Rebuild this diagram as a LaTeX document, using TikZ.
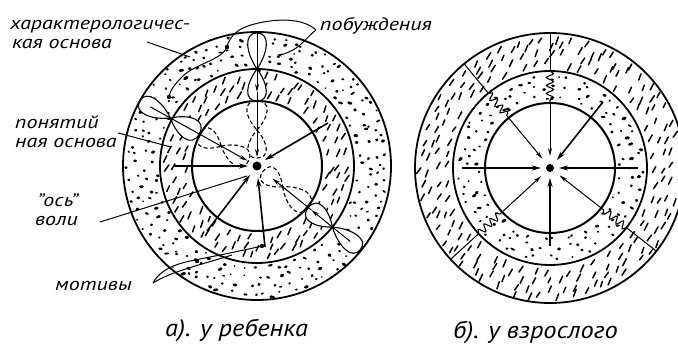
\documentclass[tikz,border=0pt]{standalone}
\usepackage{fontspec}
\setmainfont{PT Sans}
\usetikzlibrary{arrows.meta,decorations.pathmorphing,calc}

\newcommand\dotsrow[4]{%
  \pgfmathtruncatemacro\nn{round(2*pi*#3/#4)}%
  \pgfmathsetmacro\stp{360/\nn}%
  \foreach \k in {1,...,\nn}{%
    \pgfmathsetmacro\ang{(\k+0.45*rand)*\stp}%
    \pgfmathsetmacro\rad{#3+3*rand}%
    \pgfmathsetmacro\len{0.3+3.2*rnd*rnd}%
    \pgfmathsetmacro\dir{40*rand}%
    \pgfmathsetmacro\wid{1.5+1.5*rnd}%
    \draw[line width=\wid pt,line cap=round]
      ({#1+\rad*cos(\ang)},{#2+\rad*sin(\ang)}) -- ++({\dir}:{\len});
  }%
}
\newcommand\dashrow[4]{%
  \pgfmathtruncatemacro\nn{round(2*pi*#3/#4)}%
  \pgfmathsetmacro\stp{360/\nn}%
  \foreach \k in {1,...,\nn}{%
    \pgfmathsetmacro\ang{(\k+0.35*rand)*\stp}%
    \pgfmathsetmacro\rad{#3+2.5*rand}%
    \pgfmathsetmacro\len{5.5+2.5*rnd}%
    \pgfmathsetmacro\dir{-62+10*rand}%
    \draw[line width=1.5pt,line cap=round]
      ({#1+\rad*cos(\ang)},{#2+\rad*sin(\ang)}) ++({\dir}:{-\len/2}) -- ++({\dir}:{\len});
  }%
}
% lobe: pinch at #1, far end at #2, half width #3, extra style #4
\newcommand\lobe[4]{%
  \filldraw[fill=white,#4] (#1,0) .. controls ({#1+0.45*(#2-#1)},{#3}) and ({#2},{1.25*#3}) .. (#2,0)
     .. controls ({#2},{-1.25*#3}) and ({#1+0.45*(#2-#1)},{-#3}) .. cycle;
}

\begin{document}
\begin{tikzpicture}[x=1pt,y=-1pt,
  circ/.style={line width=1.8pt},
  incirc/.style={line width=2pt},
  thinline/.style={line width=1pt},
  thickarrow/.style={line width=1.6pt,-{Stealth[length=9pt,width=5pt]}},
  thinarrow/.style={line width=1pt,-{Stealth[length=8pt,width=4pt]}},
  lobesolid/.style={line width=1.1pt},
  lobedash/.style={line width=1.1pt,dash pattern=on 4pt off 2.5pt},
  wavy/.style={line width=1.1pt,decorate,decoration={snake,segment length=8pt,amplitude=3.5pt}},
  lbl/.style={font=\itshape\fontsize{18}{18}\selectfont\addfontfeature{FakeStretch=1.22},anchor=base west,inner sep=0pt},
  captext/.style={font=\itshape\fontsize{24}{24}\selectfont\addfontfeature{FakeStretch=1.1},anchor=base west,inner sep=0pt}]
\useasboundingbox (0,0) rectangle (678,347);
\fill[white] (0,0) rectangle (678,347);
\pgfmathsetseed{4711}

% ---------- textures ----------
\foreach \rr in {103,112,121,129}{\dotsrow{257}{166}{\rr}{11}}
\foreach \rr in {73,82,90}{\dashrow{257}{166}{\rr}{13}}
\foreach \rr in {72,81,90}{\dotsrow{550}{168}{\rr}{11}}
\foreach \rr in {105,114,122,129}{\dashrow{550}{168}{\rr}{15}}

% ---------- left figure: chains ----------
\coordinate (C1) at (257,166);
\coordinate (C2) at (550,168);

\begin{scope}[shift={(257,166)},rotate=90]
  \lobe{97}{133}{11}{lobesolid}
  \lobe{97}{65}{11}{lobesolid}
  \lobe{36}{65}{12}{lobedash}
  \lobe{36}{8}{11}{lobedash}
  \draw[thinarrow] (133,0) -- (74,0);
  \draw[thinarrow] (74,0) -- (9,0);
\end{scope}
\begin{scope}[shift={(257,166)},rotate=151]
  \lobe{99}{134}{11}{lobesolid}
  \lobe{99}{66}{13}{lobesolid}
  \lobe{41}{66}{12}{lobedash}
  \lobe{41}{10}{12}{lobedash}
  \draw[thinarrow] (122,0) -- (11,0);
\end{scope}
\begin{scope}[shift={(257,166)},rotate=-39]
  \lobe{97}{133}{11}{lobesolid}
  \lobe{97}{66}{12}{lobesolid}
  \lobe{33}{66}{13}{lobedash}
  \lobe{33}{8}{11}{lobedash}
  \draw[thinarrow] (120,0) -- (70,0);
  \draw[thinarrow] (70,0) -- (20,0);
\end{scope}

% circles
\draw[circ] (C1) circle[radius=134pt];
\draw[circ] (C1) circle[radius=97pt];
\draw[incirc] (C1) circle[radius=65pt];

% thick arrows (left)
\draw[thickarrow] (173,166) -- (248,166);
\draw[thickarrow] (328,123) -- (265,160);
\draw[thickarrow] (207,231) -- (250,175);
\draw[thickarrow] (265,247) -- (258,178);
\fill (C1) circle[radius=4.5pt];

% ---------- right figure ----------
\foreach \a in {90,129.5,222.6,322}{
  \begin{scope}[shift={(550,168)},rotate=\a]
    \draw[thinline] (135,0) -- (97,0);
    \draw[wavy] (97,0) -- (66,0);
    \draw[thinarrow] (66,0) -- (12,0);
  \end{scope}
}
\draw[circ] (C2) circle[radius=135pt];
\draw[circ] (C2) circle[radius=97pt];
\draw[incirc] (C2) circle[radius=65pt];
\draw[thickarrow] (462,168) -- (541,168);
\draw[thickarrow] (638,168) -- (559,168);
\draw[thickarrow] (603,102) -- (557,160);
\draw[thickarrow] (550,246) -- (550,178);
\fill (C2) circle[radius=4pt];

% ---------- labels ----------
\node[lbl] (har1) at (10,30) {характерологичес-};
\node[lbl] (har2) at (12,48.5) {кая основа};
\node[lbl] (pob) at (320,31) {побуждения};
\node[lbl] (pon1) at (15,129) {понятий};
\node[lbl] (pon2) at (15,147.5) {ная основа};
\node[lbl] (os1) at (37,207) {\symbol{34}ось\symbol{34}};
\node[lbl] (os2) at (35,226) {воли};
\node[lbl] (mot) at (55,291) {мотивы};
\node[captext] (capa) at (165,337) {а). у ребенка};
\node[captext] (capb) at (453,339) {б). у взрослого};

% label pointers
\coordinate (harP) at (190,57);
\coordinate (harS) at (147,42);
\draw[thinline] (harS) -- (harP);
\coordinate (ponS) at (118,133);
\coordinate (ponP) at (171,147);
\draw[thinline] (ponS) -- (ponP);
\coordinate (osS) at (100,222);
\coordinate (osP) at (247,176);
\draw[thinline] (osS) -- (osP);

% побуждения curves
\coordinate (pobS) at (316,30);
\coordinate (pobA) at (227,47);
\coordinate (pobB) at (169,97);
\coordinate (pobC) at (277,55);
\draw[thinline] (pobS) .. controls (300,15) and (265,20) .. (248,26)
   .. controls (236,30) and (229,38) .. (pobA)
   .. controls (222,60) and (195,64) .. (183,76)
   .. controls (175,84) and (170,90) .. (pobB);
\fill (pobA) circle[radius=2.2pt];
\fill (pobB) circle[radius=2.2pt];
\draw[thinline,-{Stealth[length=5pt,width=3pt]}] (pobS) .. controls (308,36) and (302,45) .. (293,50)
   .. controls (287,53) and (282,55) .. (pobC);

% мотивы hook
\coordinate (motS) at (153,283);
\coordinate (motA) at (262,246);
\coordinate (motB) at (232,255);
\draw[thinline] (motS) .. controls (163,265) and (185,262) .. (205,258)
   .. controls (225,254) and (245,250) .. (motA);
\draw[thinline] (motS) .. controls (170,272) and (200,265) .. (motB);
\fill (motA) circle[radius=2.2pt];
\fill (197,261) circle[radius=2.2pt];
\end{tikzpicture}
\end{document}
